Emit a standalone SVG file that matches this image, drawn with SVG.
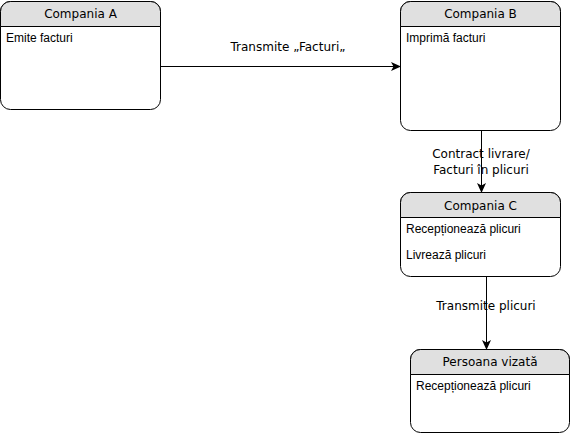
<svg xmlns="http://www.w3.org/2000/svg" width="571" height="434" viewBox="0 0 571 434">
<style>
.box{fill:#fff;stroke:#000;stroke-width:1}
.hdr{fill:#e0e0e0;stroke:#000;stroke-width:1}
.t{font-family:"Liberation Sans",Arial,sans-serif;font-size:12px;fill:#000}
.h{font-family:"DejaVu Sans",Verdana,sans-serif;font-size:12px;fill:#000;text-anchor:middle}
.lbl{font-family:"DejaVu Sans",Verdana,sans-serif;font-size:12px;fill:#000;text-anchor:middle}
.edge{fill:none;stroke:#000;stroke-width:1}
</style>
<defs>
<marker id="arr" viewBox="0 0 10 10" refX="9" refY="5" markerWidth="10" markerHeight="10" markerUnits="userSpaceOnUse" orient="auto">
<path d="M0,0.5 L10,5 L0,9.5 L2.5,5 Z" fill="#000"/>
</marker>
</defs>
<g id="connectors">
<path class="edge" d="M160.5,66.5 L400,66.5" marker-end="url(#arr)"/>
<path class="edge" d="M481.5,130.5 L481.5,192" marker-end="url(#arr)"/>
<path class="edge" d="M486.5,276.5 L486.5,349" marker-end="url(#arr)"/>
<text class="lbl" x="288" y="51">Transmite „Facturi„</text>
<text class="lbl" x="481" y="158">Contract livrare/</text>
<text class="lbl" x="481" y="174">Facturi în plicuri</text>
<text class="lbl" x="486" y="310">Transmite plicuri</text>
</g>
<g id="compania-a">
<rect class="box" x="0.5" y="1.5" width="160" height="108" rx="10"/>
<path class="hdr" d="M0.5,26.5 V11.5 A10,10 0 0 1 10.5,1.5 H150.5 A10,10 0 0 1 160.5,11.5 V26.5 Z"/>
<text class="h" x="80.5" y="18">Compania A</text>
<text class="t" x="6" y="42">Emite facturi</text>
</g>
<g id="compania-b">
<rect class="box" x="400.5" y="1.5" width="160" height="129" rx="10"/>
<path class="hdr" d="M400.5,26.5 V11.5 A10,10 0 0 1 410.5,1.5 H550.5 A10,10 0 0 1 560.5,11.5 V26.5 Z"/>
<text class="h" x="480.5" y="18">Compania B</text>
<text class="t" x="406" y="42">Imprimă facturi</text>
</g>
<g id="compania-c">
<rect class="box" x="400.5" y="192.5" width="160" height="84" rx="10"/>
<path class="hdr" d="M400.5,217.5 V202.5 A10,10 0 0 1 410.5,192.5 H550.5 A10,10 0 0 1 560.5,202.5 V217.5 Z"/>
<text class="h" x="480.5" y="210">Compania C</text>
<text class="t" x="406" y="233">Recepționează plicuri</text>
<text class="t" x="406" y="259">Livrează plicuri</text>
</g>
<g id="persoana-vizata">
<rect class="box" x="410.5" y="349.5" width="159" height="83" rx="10"/>
<path class="hdr" d="M410.5,374.5 V359.5 A10,10 0 0 1 420.5,349.5 H559.5 A10,10 0 0 1 569.5,359.5 V374.5 Z"/>
<text class="h" x="490" y="366">Persoana vizată</text>
<text class="t" x="416" y="390">Recepționează plicuri</text>
</g>
</svg>
